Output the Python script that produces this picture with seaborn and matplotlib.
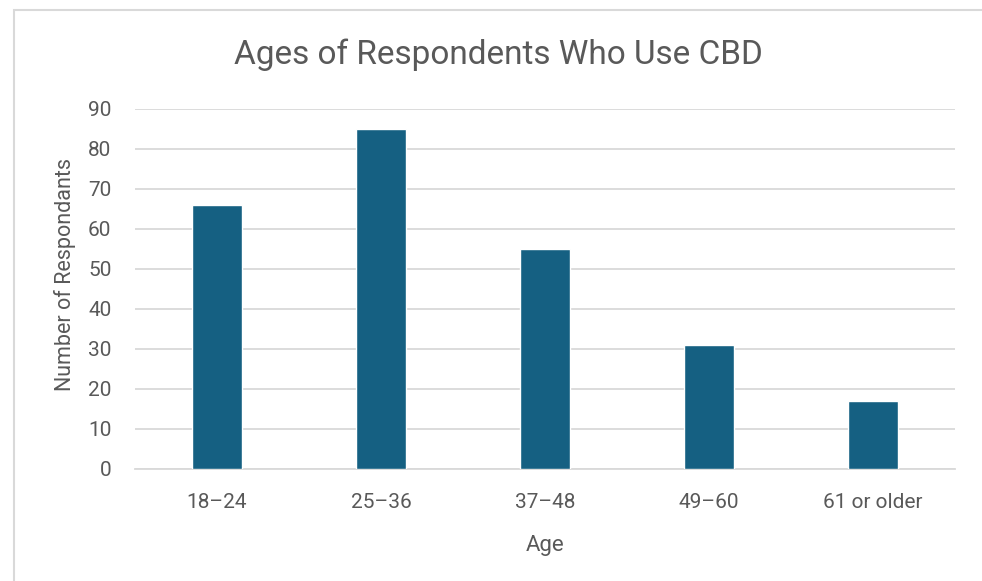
import matplotlib
matplotlib.use("Agg")
import matplotlib.pyplot as plt
import matplotlib.patches as mpatches
import seaborn as sns
import pandas as pd

categories = ["18–24", "25–36", "37–48", "49–60", "61 or older"]
values = [66, 85, 55, 31, 17]
yticks = [0, 10, 20, 30, 40, 50, 60, 70, 80, 90]

sns.set_theme(style="white")
plt.rcParams['font.family'] = ['Roboto', 'DejaVu Sans']

TXT = "#595959"
GRID = "#d9d9d9"
BAR = "#156082"

df = pd.DataFrame({"Age": categories, "Count": values})

fig = plt.figure(figsize=(9.82, 5.81), dpi=100)
ax = fig.add_axes([135/982, 112/581, 820/982, 360/581])

sns.barplot(data=df, x="Age", y="Count", color=BAR, width=0.31,
            saturation=1, ax=ax, zorder=3)

ax.set_ylim(0, 90)
ax.set_yticks(yticks)
ax.set_xlim(-0.5, len(categories) - 0.5)
ax.yaxis.grid(True, color=GRID, linewidth=1.3, zorder=0)
ax.set_axisbelow(True)
for s in ["top", "right", "left"]:
    ax.spines[s].set_visible(False)
ax.spines["bottom"].set_color(GRID)
ax.spines["bottom"].set_linewidth(1.3)
ax.tick_params(axis="both", length=0, labelsize=15, colors=TXT)
ax.tick_params(axis="y", pad=17)
ax.tick_params(axis="x", pad=17.5)

ax.set_xlabel("Age", fontsize=16, color=TXT, labelpad=16)
ax.set_ylabel("Number of Respondants", fontsize=15.5, color=TXT, labelpad=9)
ax.yaxis.label.set_y(0.54)
fig.text(498/982, 1 - 55/581, "Ages of Respondents Who Use CBD",
         fontsize=24, color=TXT, ha="center", va="center")

# chart border (left and top edges visible, cropped elsewhere)
rect = mpatches.Rectangle((14/982, -0.1), 1.2, (581 - 10)/581 + 0.1,
                          transform=fig.transFigure, fill=False,
                          edgecolor=GRID, linewidth=1.5)
fig.patches.append(rect)

fig.savefig("out.png", dpi=100)
